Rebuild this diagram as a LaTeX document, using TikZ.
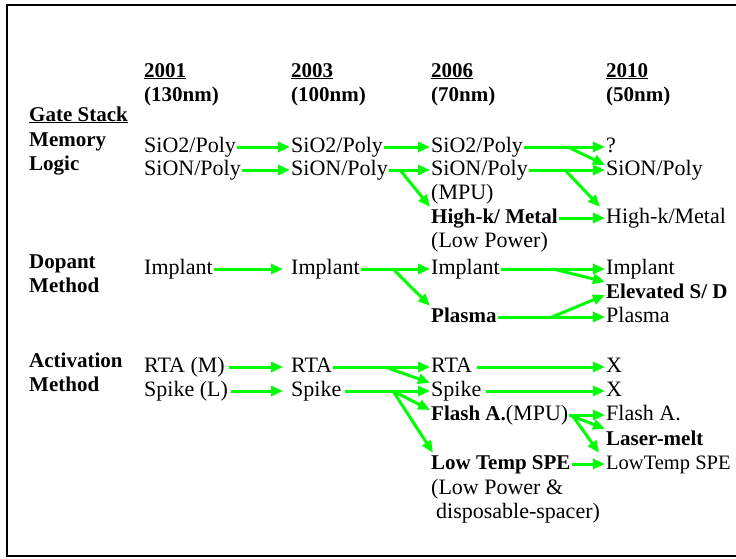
\documentclass[tikz,border=0pt]{standalone}
\usepackage{fontspec}
\setmainfont{Liberation Serif}
\usetikzlibrary{arrows.meta}
\definecolor{flowgreen}{RGB}{0,255,0}
\newcommand\regsize{\fontsize{22}{24}\selectfont}
\newcommand\boldsize{\fontsize{21}{24}\selectfont\bfseries}
\tikzset{
	lbl/.style={anchor=base west, inner sep=1pt, text height=15pt, text depth=5pt, font=\regsize},
	blbl/.style={lbl, font=\boldsize},
	flow/.style={draw=flowgreen, line width=3pt, -{Triangle[length=12pt,width=10pt]}}
}

\begin{document}
\begin{tikzpicture}[x=1pt, y=-1pt]
			%%%%% START %%%%%
			
			\useasboundingbox (0, 0) rectangle (736, 558);
			\clip (0, 0) rectangle (736, 558);
			\draw[line width=2pt] (7, 5) rectangle (760, 556);
			
			% years
			\node[blbl] (h1a) at (143, 77) {\underline{2001}};
			\node[blbl] (h1b) at (143, 101) {(130nm)};
			\node[blbl] (h2a) at (290, 77) {\underline{2003}};
			\node[blbl] (h2b) at (290, 101) {(100nm)};
			\node[blbl] (h3a) at (430, 77) {\underline{2006}};
			\node[blbl] (h3b) at (430, 101) {(70nm)};
			\node[blbl] (h4a) at (605, 77) {\underline{2010}};
			\node[blbl] (h4b) at (605, 101) {(50nm)};
			
			% row titles
			\node[blbl] (gate) at (28, 121) {\underline{Gate Stack}};
			\node[blbl] (mem) at (28, 146) {Memory};
			\node[blbl] (logic) at (28, 170) {Logic};
			\node[blbl] (dop) at (28, 268) {Dopant};
			\node[blbl] (dopm) at (28, 292) {Method};
			\node[blbl] (act) at (28, 367) {Activation};
			\node[blbl] (actm) at (28, 391) {Method};
			
			% gate stack
			\node[lbl] (g1a) at (143, 152) {SiO2/Poly};
			\node[lbl] (g1b) at (143, 175) {SiON/Poly};
			\node[lbl] (g2a) at (290, 152) {SiO2/Poly};
			\node[lbl] (g2b) at (290, 175) {SiON/Poly};
			\node[lbl] (g3a) at (430, 152) {SiO2/Poly};
			\node[lbl] (g3b) at (430, 175) {SiON/Poly};
			\node[lbl] (g3c) at (430, 199) {(MPU)};
			\node[blbl] (g3d) at (430, 223) {High-k/ Metal};
			\node[lbl] (g3e) at (430, 247) {(Low Power)};
			\node[lbl] (g4a) at (605, 152) {?};
			\node[lbl] (g4b) at (605, 175) {SiON/Poly};
			\node[lbl] (g4d) at (605, 223) {High-k/Metal};
			
			% dopant
			\node[lbl] (d1) at (143, 274) {Implant};
			\node[lbl] (d2) at (290, 274) {Implant};
			\node[lbl] (d3a) at (430, 274) {Implant};
			\node[blbl] (d3b) at (430, 322) {Plasma};
			\node[lbl] (d4a) at (605, 274) {Implant};
			\node[blbl] (d4b) at (605, 298) {Elevated S/ D};
			\node[lbl] (d4c) at (605, 322) {Plasma};
			
			% activation
			\node[lbl] (a1a) at (143, 372) {RTA (M)};
			\node[lbl] (a1b) at (143, 396) {Spike (L)};
			\node[lbl] (a2a) at (290, 372) {RTA};
			\node[lbl] (a2b) at (290, 396) {Spike};
			\node[lbl] (a3a) at (430, 372) {RTA};
			\node[lbl] (a3b) at (430, 396) {Spike};
			\node[lbl] (a3c) at (430, 420) {{\boldsize Flash A.}(MPU)};
			\node[blbl] (a3d) at (430, 469) {Low Temp SPE};
			\node[lbl] (a3e) at (430, 494) {(Low Power \&};
			\node[lbl] (a3f) at (435, 518) {disposable-spacer)};
			\node[lbl] (a4a) at (605, 372) {X};
			\node[lbl] (a4b) at (605, 396) {X};
			\node[lbl] (a4c) at (605, 420) {Flash A.};
			\node[blbl] (a4d) at (605, 445) {Laser-melt};
			\node[lbl, font=\fontsize{20.5}{24}\selectfont] (a4e) at (605, 469) {LowTemp SPE};
			
			% branch points
			\coordinate (b1) at (400, 170);
			\coordinate (b2) at (568, 147);
			\coordinate (b3) at (565, 170);
			\coordinate (b4) at (393, 269);
			\coordinate (b5) at (553, 269);
			\coordinate (b6) at (552, 317);
			\coordinate (b7) at (385, 367);
			\coordinate (b8) at (393, 391);
			\coordinate (b9) at (572, 415);
			
			\draw[flow] (g1a.east) -- (g2a.west);
			\draw[flow] (g1b.east) -- (g2b.west);
			\draw[flow] (g2a.east) -- (g3a.west);
			\draw[flow] (g2b.east) -- (g3b.west);
			\draw[flow] (b1) -- (g3d.north west);
			\draw[flow] (g3a.east) -- (g4a.west);
			\draw[flow] (b2) -- ([yshift=5pt]g4b.west);
			\draw[flow] (g3b.east) -- (g4b.west);
			\draw[flow] (b3) -- ([xshift=-5pt]g4d.north west);
			\draw[flow] (g3d.east) -- (g4d.west);
			
			\draw[flow, shorten >=7pt] (d1.east) -- (d2.west);
			\draw[flow] (d2.east) -- (d3a.west);
			\draw[flow] (b4) -- (d3b.north west);
			\draw[flow] (d3a.east) -- (d4a.west);
			\draw[flow] (b5) -- (d4b.north west);
			\draw[flow] (d3b.east) -- (d4c.west);
			\draw[flow] (b6) -- ([yshift=-2pt]d4b.west);
			
			\draw[flow, shorten <=3pt, shorten >=7pt] (a1a.east) -- (a2a.west);
			\draw[flow, shorten <=2pt, shorten >=7pt] (a1b.east) -- (a2b.west);
			\draw[flow] (a2a.east) -- (a3a.west);
			\draw[flow] (b7) -- ([yshift=-3pt]a3b.north west);
			\draw[flow, shorten <=2pt] (a2b.east) -- (a3b.west);
			\draw[flow] (b8) -- ([yshift=5pt]a3c.west);
			\draw[flow] (b8) -- ([xshift=3pt]a3d.north west);
			\draw[flow, shorten <=4pt] (a3a.east) -- (a4a.west);
			\draw[flow, shorten <=3pt] (a3b.east) -- (a4b.west);
			\draw[flow] (a3c.east) -- (a4c.west);
			\draw[flow] (a3c.east) -- (a4d.north west);
			\draw[flow] (b9) -- ([xshift=-6pt]a4e.north west);
			\draw[flow] (a3d.east) -- (a4e.west);
			
			%%%%% END %%%%%
\end{tikzpicture}
\end{document}
